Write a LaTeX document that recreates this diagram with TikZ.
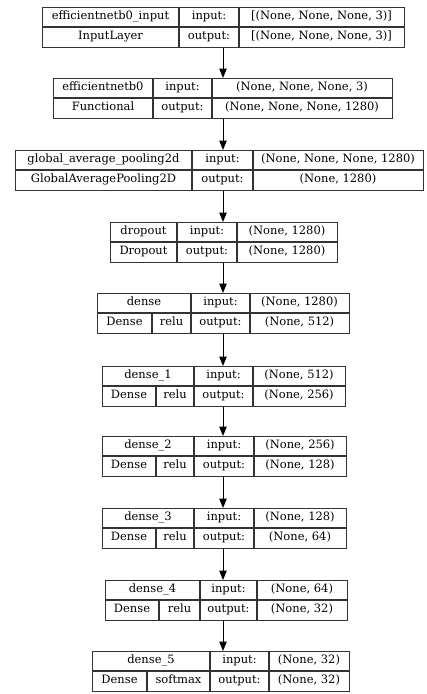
\documentclass[tikz,border=0pt]{standalone}
\usepackage{fontspec}
\setmainfont{DejaVu Serif}
\usetikzlibrary{arrows.meta}

% One layer: outer frame, row divider, column dividers and the input/output labels.
\newcommand\layerframe[6]{%
  \def\lid{#1}\def\lt{#2}\def\lL{#3}\def\lA{#4}\def\lB{#5}\def\lR{#6}%
  \node[frame, anchor=north west, minimum width=#6pt-#3pt, minimum height=40pt] (#1) at (#3,#2) {};
  \draw[frame] (#3,#2+20) -- (#6,#2+20);
  \draw[frame] (#4,#2) -- (#4,#2+40);
  \draw[frame] (#5,#2) -- (#5,#2+40);
  \node[cell] (#1-inlbl) at ({(#4+#5)/2},#2+10) {input:};
  \node[cell] (#1-outlbl) at ({(#4+#5)/2},#2+30) {output:};
}
% Input and output shapes of the current layer.
\newcommand\ioshapes[2]{%
  \node[cell] (\lid-in) at ({(\lB+\lR)/2},\lt+10) {#1};
  \node[cell] (\lid-out) at ({(\lB+\lR)/2},\lt+30) {#2};
}
% Layer name over its class.
\newcommand\plainname[2]{%
  \node[cell] (\lid-name) at ({(\lL+\lA)/2},\lt+10) {#1};
  \node[cell] (\lid-class) at ({(\lL+\lA)/2},\lt+30) {#2};
}
% Layer name over its class and activation, split at x = #1.
\newcommand\densename[4]{%
  \node[cell] (\lid-name) at ({(\lL+\lA)/2},\lt+10) {#2};
  \draw[frame] (#1,\lt+20) -- (#1,\lt+40);
  \node[cell] (\lid-class) at ({(\lL+#1)/2},\lt+30) {#3};
  \node[cell] (\lid-act) at ({(#1+\lA)/2},\lt+30) {#4};
}

\begin{document}
\begin{tikzpicture}[x=1pt, y=-1pt,
  cell/.style={inner sep=0pt, text height=8pt, text depth=2.5pt,
               font=\fontsize{11.5}{13}\selectfont},
  frame/.style={draw=black!80, line width=1.1pt, inner sep=0pt},
  flow/.style={draw=black, line width=1pt, -{Triangle[width=7.5pt,length=9.5pt]}}]
\useasboundingbox[fill=white] (0,0) rectangle (427,694);
\coordinate (axis) at (223,0);

\layerframe{L1}{7}{42}{179}{239}{404}
\plainname{efficientnetb0\_input}{InputLayer}
\ioshapes{[(None, None, None, 3)]}{[(None, None, None, 3)]}

\layerframe{L2}{78}{53}{153}{212}{392}
\plainname{efficientnetb0}{Functional}
\ioshapes{(None, None, None, 3)}{(None, None, None, 1280)}

\layerframe{L3}{150}{15}{192}{253}{423}
\plainname{global\_average\_pooling2d}{GlobalAveragePooling2D}
\ioshapes{(None, None, None, 1280)}{(None, 1280)}

\layerframe{L4}{222}{110}{177}{237}{337}
\plainname{dropout}{Dropout}
\ioshapes{(None, 1280)}{(None, 1280)}

\layerframe{L5}{293}{97}{191}{250}{349}
\densename{152}{dense}{Dense}{relu}
\ioshapes{(None, 1280)}{(None, 512)}

\layerframe{L6}{366}{102}{194}{253}{345}
\densename{156}{dense\_1}{Dense}{relu}
\ioshapes{(None, 512)}{(None, 256)}

\layerframe{L7}{436}{102}{194}{254}{346}
\densename{156}{dense\_2}{Dense}{relu}
\ioshapes{(None, 256)}{(None, 128)}

\layerframe{L8}{508}{102}{194}{254}{346}
\densename{156}{dense\_3}{Dense}{relu}
\ioshapes{(None, 128)}{(None, 64)}

\layerframe{L9}{580}{105}{200}{257}{347}
\densename{159}{dense\_4}{Dense}{relu}
\ioshapes{(None, 64)}{(None, 32)}

\layerframe{L10}{651}{92}{210}{269}{349}
\densename{147}{dense\_5}{Dense}{softmax}
\ioshapes{(None, 32)}{(None, 32)}

\foreach \a/\b in {L1/L2, L2/L3, L3/L4, L4/L5, L5/L6, L6/L7, L7/L8, L8/L9, L9/L10}
  \draw[flow] (\a.south -| axis) -- (\b.north -| axis);
\end{tikzpicture}
\end{document}
